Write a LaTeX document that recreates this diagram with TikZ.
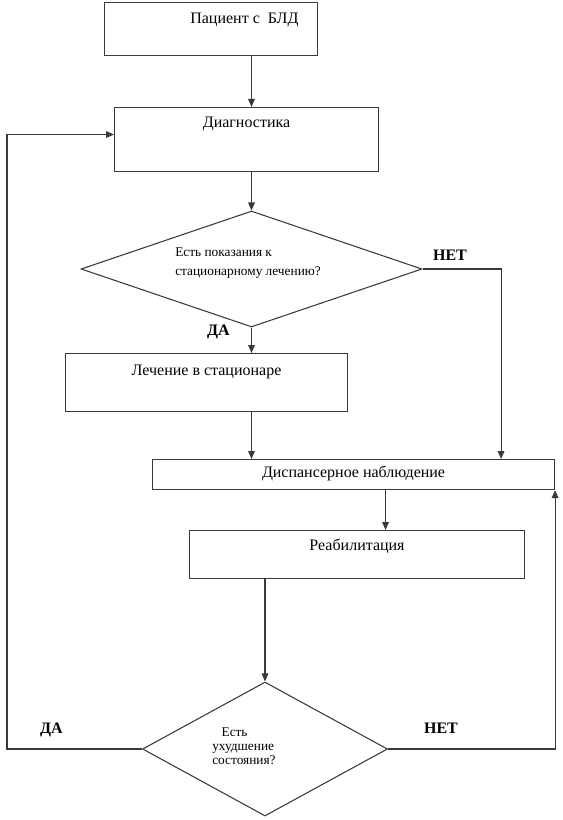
\documentclass[tikz,border=0pt]{standalone}
\usepackage{fontspec}
\setmainfont{Liberation Serif}
\usepackage{tikz}
\usetikzlibrary{shapes.geometric, arrows.meta, positioning, calc}
\usepackage{xcolor}
\definecolor{ink}{HTML}{3A3A3A}

\begin{document}
\begin{tikzpicture}[
  x=0.75pt, y=-0.75pt,
  box/.style={rectangle, draw=ink, line width=0.8pt, inner sep=0pt, anchor=north west,
    font=\rmfamily\fontsize{12}{14}\selectfont},
  query/.style={diamond, draw=ink, line width=0.8pt, inner sep=0pt},
  qtext/.style={inner sep=0pt, anchor=west, align=left, font=\rmfamily\fontsize{10}{14.25}\selectfont},
  answer/.style={inner sep=0pt, font=\rmfamily\fontsize{12}{14}\selectfont\bfseries},
  arr/.style={-{Triangle[length=6pt, width=5pt]}, draw=ink, line width=0.8pt},
]
  \useasboundingbox (0,0) rectangle (563,820);

  \node[box, minimum width=159.75pt, text height=15.75pt, text depth=24pt] (patient) at (104,2)
    {\hspace*{50pt}Пациент с\ \ БЛД};
  \node[box, minimum width=198pt, text height=15pt, text depth=33pt] (diag) at (114,107)
    {Диагностика};
  \node[query, minimum width=255.75pt, minimum height=87pt] (q1) at (251.5,269) {};
  \node[qtext] (q1txt) at (175,263) {Есть показания к\\стационарному лечению?};
  \node[box, minimum width=211.5pt, text height=16.5pt, text depth=27pt] (treat) at (65,353)
    {Лечение в стационаре};
  \node[box, minimum width=301.5pt, text height=13.5pt, text depth=9pt] (disp) at (152,459)
    {Диспансерное наблюдение};
  \node[box, minimum width=251.25pt, text height=15pt, text depth=21pt] (rehab) at (189,530)
    {Реабилитация};
  \node[query, minimum width=183.75pt, minimum height=100.5pt] (q2) at (265,749) {};
  \node[qtext, font=\rmfamily\fontsize{10}{10.5}\selectfont] (q2txt) at (212,746)
    {\hspace*{7pt}Есть\\ухудшение\\состояния?};

  \node[answer] (no1) at (450,255) {НЕТ};
  \node[answer] (yes1) at (218.5,332) {ДА};
  \node[answer] (yes2) at (51.5,730) {ДА};
  \node[answer] (no2) at (441,728) {НЕТ};

  \draw[arr] (patient.south -| q1.north) -- (diag.north -| q1.north);
  \draw[arr] (diag.south -| q1.north) -- (q1.north);
  \draw[arr] (q1.south) -- (treat.north -| q1.south);
  \draw[arr] (treat.south -| q1.south) -- (disp.north -| q1.south);
  \draw[arr] (q1.east) -| ($(disp.north east)+(-54,0)$);
  \draw[arr] ($(disp.south)+(32,0)$) -- ($(rehab.north -| disp.south)+(32,0)$);
  \draw[arr] (rehab.south -| q2.north) -- (q2.north);
  \draw[arr] (q2.west) -- ++(-135,0) |- ($(diag.west)+(0,-5)$);
  \draw[arr] (q2.east) -| (disp.south east);
\end{tikzpicture}
\end{document}
